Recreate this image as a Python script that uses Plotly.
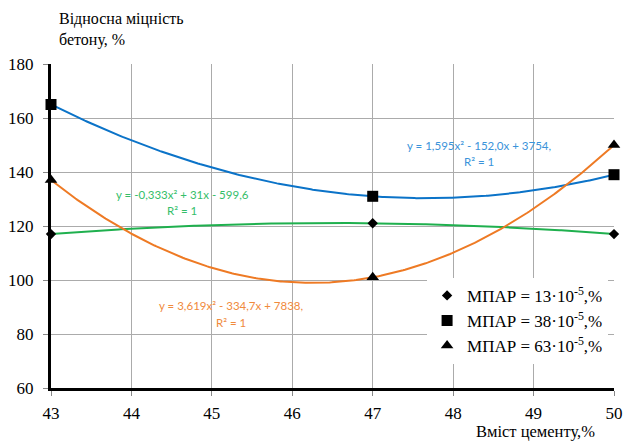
import numpy as np
import plotly.graph_objects as go

# Cement content, % and relative concrete strength, % for three МПАР dosages
cement = [43, 47, 50]
strength_13 = [117, 121, 117]
strength_38 = [165, 131, 139]
strength_63 = [137, 101, 150]

series_names = [
    "МПАР = 13·10<sup>-5</sup>,%",
    "МПАР = 38·10<sup>-5</sup>,%",
    "МПАР = 63·10<sup>-5</sup>,%",
]
trend_labels = [
    ["y = -0,333x² + 31x - 599,6", "R² = 1"],
    ["y = 1,595x² - 152,0x + 3754,", "R² = 1"],
    ["y = 3,619x² - 334,7x + 7838,", "R² = 1"],
]

x_ticks = [43, 44, 45, 46, 47, 48, 49, 50]
y_ticks = [60, 80, 100, 120, 140, 160, 180]

serif = "Liberation Serif, Times New Roman, serif"
calib = "Lato"

line_colors = ["#1FB04E", "#0B73C8", "#EE7A24"]
label_colors = ["#35BE69", "#3A93DA", "#F08A3C"]
symbols = ["diamond", "square", "triangle-up"]
sizes = [8, 11, 11]
all_series = [strength_13, strength_38, strength_63]

fig = go.Figure()

xs = np.linspace(cement[0], cement[-1], 300)
for vals, col in zip(all_series, line_colors):
    coef = np.polyfit(cement, vals, 2)
    fig.add_trace(go.Scatter(
        x=xs, y=np.polyval(coef, xs), mode="lines",
        line=dict(color=col, width=2), showlegend=False, hoverinfo="skip",
    ))

for i, (vals, name) in enumerate(zip(all_series, series_names)):
    fig.add_trace(go.Scatter(
        x=cement, y=vals, mode="markers", name=name,
        marker=dict(symbol=symbols[i], size=sizes[i], color="black"),
        legendgroup=f"g{i}",
        cliponaxis=False,
    ))

# trendline equation labels
label_pos = [
    (44.63, 131.5, 125.6),
    (48.32, 150.0, 144.0),
    (45.24, 90.4, 84.4),
]
for (lx, y1, y2), lines, col in zip(label_pos, trend_labels, label_colors):
    for yy, txt in zip((y1, y2), lines):
        fig.add_annotation(
            x=lx, y=yy, xref="x", yref="y", text=txt, showarrow=False,
            font=dict(family=calib, size=11.5, color=col),
            xanchor="center", yanchor="middle",
        )

# axis titles
fig.add_annotation(
    x=0.011, y=1.172, xref="paper", yref="paper",
    text="Відносна міцність<br>бетону, %", showarrow=False, align="left",
    xanchor="left", yanchor="top",
    font=dict(family=serif, size=16, color="black"),
)
fig.add_annotation(
    x=0.861, y=-0.134, xref="paper", yref="paper",
    text="Вміст цементу,%", showarrow=False,
    xanchor="center", yanchor="middle",
    font=dict(family=serif, size=16.5, color="black"),
)

fig.update_xaxes(
    range=[43, 50], tickvals=x_ticks, ticktext=[str(v) for v in x_ticks],
    showgrid=True, gridcolor="#ABABAB", gridwidth=1,
    showline=True, linecolor="black", linewidth=3,
    ticks="outside", ticklen=5, tickcolor="#888888", ticklabelstandoff=3,
    tickfont=dict(family=serif, size=17, color="black"),
    zeroline=False, automargin=False,
)
fig.update_yaxes(
    range=[60, 180], tickvals=y_ticks, ticktext=[str(v) for v in y_ticks],
    showgrid=True, gridcolor="#ABABAB", gridwidth=1,
    showline=True, linecolor="black", linewidth=3,
    ticks="outside", ticklen=5, tickcolor="#888888", ticklabelstandoff=6,
    tickfont=dict(family=serif, size=17, color="black"),
    zeroline=False, automargin=False,
)

fig.update_layout(
    width=627, height=442,
    margin=dict(l=51, r=13, t=64, b=54),
    paper_bgcolor="white", plot_bgcolor="white",
    showlegend=True,
    legend=dict(
        x=0.668, y=0.34, xanchor="left", yanchor="top",
        bgcolor="white", borderwidth=0,
        font=dict(family=serif, size=17, color="black"),
        tracegroupgap=0, itemwidth=30,
    ),
)

fig.write_html("out.html")
